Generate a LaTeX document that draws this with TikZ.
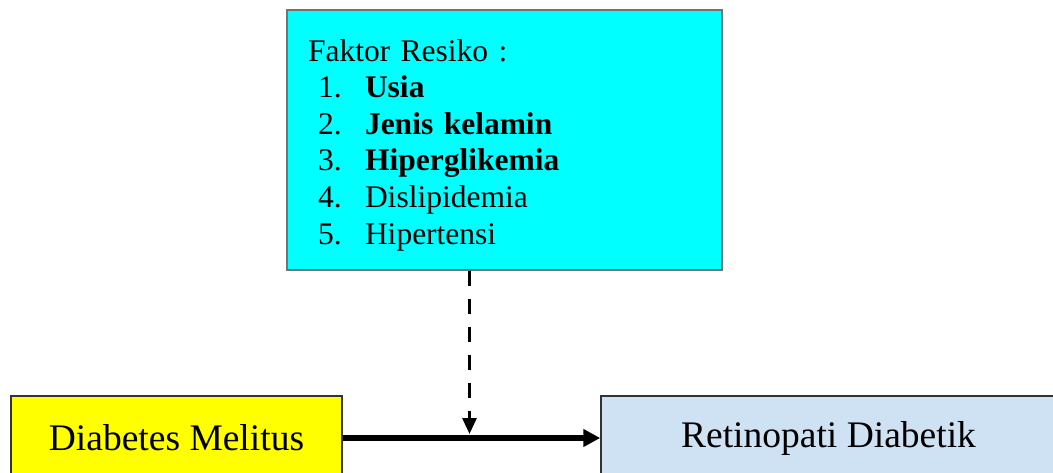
\documentclass[tikz,border=0pt]{standalone}
\usepackage{fontspec}
\setmainfont{Liberation Serif}
\usetikzlibrary{arrows.meta}
\definecolor{faktorcyan}{RGB}{0,255,255}
\definecolor{dmyellow}{RGB}{255,255,0}
\definecolor{rdblue}{RGB}{207,226,243}
\newcommand{\riskitem}[2]{\hspace*{10pt}\makebox[47pt][l]{#1}#2}
\begin{document}
\begin{tikzpicture}[line join=miter,x=1pt,y=-1pt,>={Triangle[length=17pt,width=17pt]},
	box/.style={draw=black!80,line width=1.5pt,inner sep=0pt},
	bigtext/.style={font=\fontsize{37.5}{45}\selectfont}]
	\useasboundingbox (0,0) rectangle (1053,473);
	\clip (0,0) rectangle (1053,473);
	\node[box,draw=black!55,fill=faktorcyan,minimum width=435pt,minimum height=260pt,text width=393pt,inner xsep=21pt,align=left,font=\fontsize{31.5}{36.6}\selectfont] (faktor) at (504.5,140) {\rule{0pt}{32pt}Faktor Resiko :\\
		\riskitem{1.}{\textbf{Usia}}\\
		\riskitem{2.}{\textbf{Jenis kelamin}}\\
		\riskitem{3.}{\textbf{Hiperglikemia}}\\
		\riskitem{4.}{Dislipidemia}\\
		\riskitem{5.}{Hipertensi}};
	\node[box,bigtext,fill=dmyellow,minimum width=331pt,minimum height=84pt] (dm) at (176.5,438) {Diabetes Melitus};
	\node[box,bigtext,fill=rdblue,minimum width=455pt,minimum height=84pt] (rd) at (828.5,438) {Retinopati Diabetik};
	\coordinate (meet) at (469.5,434);
	\draw[->,line width=6.5pt] (dm) -- (rd);
	\draw[->,line width=3pt,dash pattern=on 15pt off 13pt,>={Triangle[length=16pt,width=14pt]}] (faktor.south -| meet) -- (meet);
\end{tikzpicture}
\end{document}
